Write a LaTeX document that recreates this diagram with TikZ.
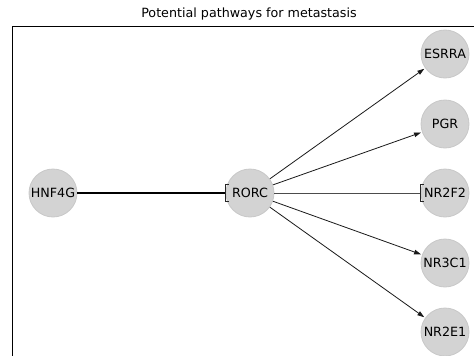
\documentclass[tikz,border=0pt]{standalone}
\usepackage{fontspec}
\setmainfont{DejaVu Sans}
\usetikzlibrary{arrows.meta}
\begin{document}
\begin{tikzpicture}[x=1pt,y=-1pt,
  gene/.style={circle,fill={rgb,255:red,211;green,211;blue,211},draw={rgb,255:red,200;green,200;blue,200},line width=0.8pt,minimum size=48pt,inner sep=0pt,font=\fontsize{12.7}{14}\selectfont,text=black},
  act/.style={draw=black!90,line width=0.8pt,-{Triangle[length=7pt,width=4.5pt]},shorten >=1pt},
  inh/.style={draw=black,line width=1.3pt},
  inhthin/.style={draw=black!70,line width=0.9pt},
  bracketmark/.style={draw=black!85,line width=1.2pt},
  spine/.style={draw=black,line width=0.8pt}]
\useasboundingbox (0,0) rectangle (474,356);
\node[font=\fontsize{12.7}{14}\selectfont] (title) at (249,14) {Potential pathways for metastasis};
\coordinate (tl) at (12,26);
\coordinate (tr) at (474,26);
\coordinate (bl) at (12,356);
\draw[spine] (tr) -- (tl) -- (bl);
\node[gene] (HNF4G) at (53,193) {HNF4G};
\node[gene] (RORC) at (250,193) {RORC};
\node[gene] (ESRRA) at (445,54) {ESRRA};
\node[gene] (PGR) at (445,124) {PGR};
\node[gene] (NR2F2) at (445,193) {NR2F2};
\node[gene] (NR3C1) at (445,263) {NR3C1};
\node[gene] (NR2E1) at (445,332) {NR2E1};
\draw[inh] (HNF4G) -- (RORC);
\draw[bracketmark] (RORC.west) ++(3,-8.5) -- ++(-3,0) -- ++(0,17) -- ++(3,0);
\draw[inhthin] (RORC) -- (NR2F2);
\draw[bracketmark] (NR2F2.west) ++(3,-8.5) -- ++(-3,0) -- ++(0,17) -- ++(3,0);
\draw[act] (RORC) -- (ESRRA);
\draw[act] (RORC) -- (PGR);
\draw[act] (RORC) -- (NR3C1);
\draw[act] (RORC) -- (NR2E1);
\end{tikzpicture}
\end{document}
